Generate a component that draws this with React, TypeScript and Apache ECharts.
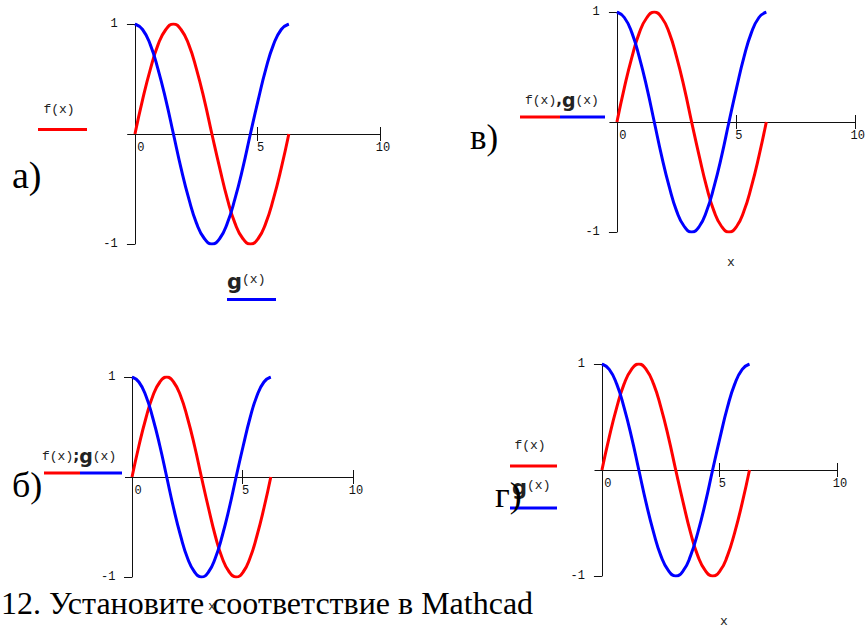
import React, { useEffect, useRef } from "react";
import * as echarts from "echarts";

const xValues = [0, 0.31, 0.63, 0.94, 1.26, 1.57, 1.88, 2.2, 2.51, 2.83, 3.14, 3.46, 3.77, 4.08, 4.4, 4.71, 5.03, 5.34, 5.65, 5.97, 6.28];
const fValues = [0, 0.31, 0.59, 0.81, 0.95, 1, 0.95, 0.81, 0.59, 0.31, 0, -0.31, -0.59, -0.81, -0.95, -1, -0.95, -0.81, -0.59, -0.31, 0];
const gValues = [1, 0.95, 0.81, 0.59, 0.31, 0, -0.31, -0.59, -0.81, -0.95, -1, -0.95, -0.81, -0.59, -0.31, 0, 0.31, 0.59, 0.81, 0.95, 1];

const xTickLabels = [0, 5, 10];
const xTickMarks = [5, 10];
const yTickLabels = [-1, 1];
const xMin = -0.3;
const xMax = 10;

const panelLetters = ["а)", "в)", "б)", "г)"];
const bottomText = "12. Установите соответствие в Mathcad";

const RED = "#ff0000";
const BLUE = "#0000ff";
const AX = "#111";
const MONO = "'Liberation Mono', 'DejaVu Sans Mono', monospace";
const SERIF = "'Liberation Serif', 'Times New Roman', serif";

const grids = [
  { left: 127.6, top: 24, width: 252.4, height: 220 },
  { left: 609.8, top: 12, width: 248.2, height: 220 },
  { left: 125.4, top: 377, width: 227.6, height: 200 },
  { left: 594.9, top: 364, width: 242, height: 212 },
];

export default function App() {
  const ref = useRef<HTMLDivElement>(null);
  useEffect(() => {
    if (!ref.current) return;
    const chart = echarts.init(ref.current, undefined, { renderer: "svg" });
    const fData = xValues.map((x, i) => [x, fValues[i]]);
    const gData = xValues.map((x, i) => [x, gValues[i]]);

    const xAxis: any[] = [];
    const yAxis: any[] = [];
    const series: any[] = [];
    grids.forEach((g, gi) => {
      xAxis.push({
        type: "value",
        gridIndex: gi,
        min: xMin,
        max: xMax,
        position: "bottom",
        splitLine: { show: false },
        axisLine: { onZero: true, lineStyle: { color: AX, width: 1 } },
        axisTick: { show: true, customValues: xTickMarks, length: 7, lineStyle: { color: AX } },
        axisLabel: {
          customValues: xTickLabels,
          margin: 8 - g.height / 2,
          color: "#111",
          fontFamily: MONO,
          fontSize: 12,
          align: "center",
          formatter: (v: number) => (v === 0 ? `{z|${v}}` : `{n|${v}}`),
          rich: {
            z: { fontFamily: MONO, fontSize: 12, color: "#111", padding: [0, 0, 0, 12] },
            n: { fontFamily: MONO, fontSize: 12, color: "#111", padding: [0, 0, 0, 6] },
          },
        },
      });
      xAxis.push({
        type: "value",
        gridIndex: gi,
        min: xMin,
        max: xMax,
        position: "top",
        splitLine: { show: false },
        axisLine: { show: false, onZero: true, onZeroAxisIndex: gi },
        axisTick: { show: true, customValues: xTickMarks, length: 7, lineStyle: { color: AX } },
        axisLabel: { show: false },
      });
      yAxis.push({
        type: "value",
        gridIndex: gi,
        min: -1,
        max: 1,
        splitLine: { show: false },
        axisLine: { onZero: true, onZeroAxisIndex: gi * 2, lineStyle: { color: AX, width: 1 } },
        axisTick: { show: true, customValues: yTickLabels, length: 8, lineStyle: { color: AX } },
        axisLabel: {
          customValues: yTickLabels,
          margin: 10,
          color: "#111",
          fontFamily: MONO,
          fontSize: 12,
          formatter: (v: number) => String(v),
        },
      });
      series.push({
        type: "line",
        xAxisIndex: gi * 2,
        yAxisIndex: gi,
        data: fData,
        smooth: true,
        showSymbol: false,
        lineStyle: { color: RED, width: 3 },
        silent: true,
      });
      series.push({
        type: "line",
        xAxisIndex: gi * 2,
        yAxisIndex: gi,
        data: gData,
        smooth: true,
        showSymbol: false,
        lineStyle: { color: BLUE, width: 3 },
        silent: true,
      });
    });

    const monoText = (text: string, x: number, y: number, align = "center") => ({
      type: "text",
      x,
      y,
      style: { text, fill: "#222", font: `13px ${MONO}`, align, verticalAlign: "middle" },
    });
    const bar = (x: number, y: number, w: number, color: string) => ({
      type: "rect",
      shape: { x, y, width: w, height: 3 },
      style: { fill: color },
    });
    const richFG = (sep: string, x: number, y: number) => ({
      type: "text",
      x,
      y,
      style: {
        text: `{m|f(x)}{s|${sep}}{g|g}{m|(x)}`,
        align: "left",
        verticalAlign: "middle",
        rich: {
          m: { font: `13px ${MONO}`, fill: "#222" },
          s: { font: `bold 15px 'DejaVu Sans', sans-serif`, fill: "#222" },
          g: { font: `bold 19px 'DejaVu Sans', sans-serif`, fill: "#222" },
        },
      },
    });
    const richG = (x: number, y: number) => ({
      type: "text",
      x,
      y,
      style: {
        text: `{g|g}{m|(x)}`,
        align: "left",
        verticalAlign: "middle",
        rich: {
          m: { font: `13px ${MONO}`, fill: "#222", padding: [0, 0, 6, 0] },
          g: { font: `bold 21px 'DejaVu Sans', sans-serif`, fill: "#222" },
        },
      },
    });
    const bigText = (text: string, x: number, y: number, size: number) => ({
      type: "text",
      x,
      y,
      style: { text, fill: "#000", font: `${size}px ${SERIF}`, align: "left", verticalAlign: "middle" },
    });

    const graphic: any[] = [
      // panel а
      monoText("f(x)", 59, 109),
      bar(38, 128, 49, RED),
      richG(227, 282),
      bar(227, 298, 49, BLUE),
      bigText(panelLetters[0], 12, 175, 38),
      // panel в
      richFG(",", 525, 100),
      bar(520, 115.5, 40, RED),
      bar(560, 115.5, 45, BLUE),
      bigText(panelLetters[1], 470, 137, 35),
      monoText("x", 731, 262),
      // panel б
      richFG(";", 42, 456),
      bar(44, 471.5, 36, RED),
      bar(80, 471.5, 42, BLUE),
      bigText(panelLetters[2], 12, 485, 36),
      // panel г
      monoText("f(x)", 530, 445),
      bar(510, 464.5, 47, RED),
      richG(512, 488),
      bar(510, 506.5, 47, BLUE),
      bigText(panelLetters[3], 495, 495, 36),
      monoText("x", 724, 621),
      // bottom text
      bigText(bottomText, 1, 603, 32),
      monoText("x", 212, 606),
    ];

    chart.setOption({
      animation: false,
      backgroundColor: "#ffffff",
      grid: grids.map((g) => ({ ...g, containLabel: false })),
      xAxis,
      yAxis,
      series,
      graphic,
    });
    return () => chart.dispose();
  }, []);
  return (
    <div
      ref={ref}
      style={{ position: "fixed", left: 0, top: 0, width: 868, height: 628, background: "#fff" }}
    />
  );
}
